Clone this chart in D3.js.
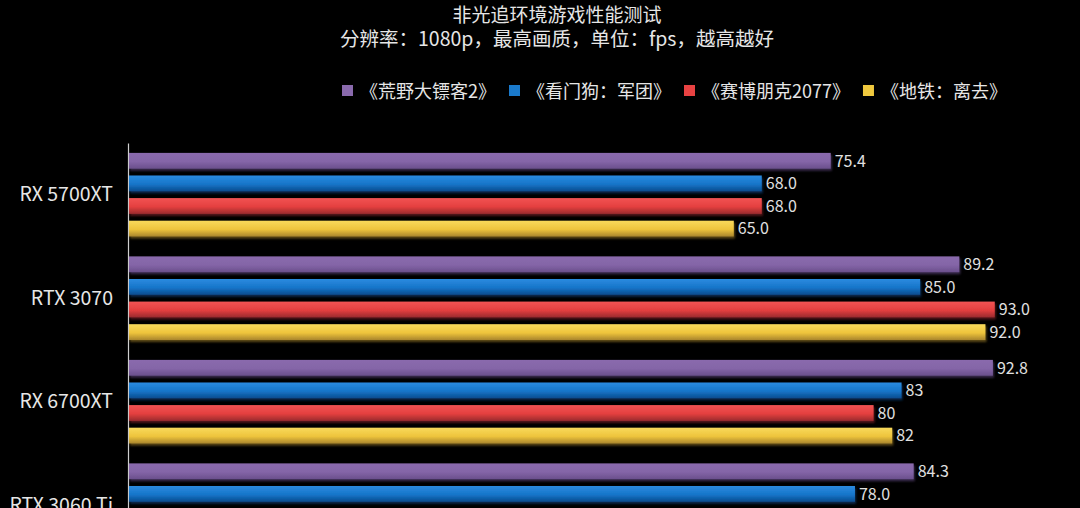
<!DOCTYPE html>
<html>
<head>
<meta charset="utf-8">
<script src="https://cdn.jsdelivr.net/npm/d3@7"></script>
<style>
  html, body { margin: 0; padding: 0; background: #000; }
  svg { display: block; font-family: "Noto Sans CJK SC", "Noto Sans", sans-serif; }
</style>
</head>
<body>
<div id="chart"></div>
<script>
var width = 1080, height = 508;

// data
var categories = ["RX 5700XT", "RTX 3070", "RX 6700XT", "RTX 3060 Ti"];
var seriesNames = ["《荒野大镖客2》", "《看门狗：军团》", "《赛博朋克2077》", "《地铁：离去》"];
var rdr2 = [75.4, 89.2, 92.8, 84.3];
var watchDogs = [68.0, 85.0, 83, 78.0];
var cyberpunk = [68.0, 93.0, 80, 90.0];
var metro = [65.0, 92.0, 82, 88.0];
var rdr2Labels = ["75.4", "89.2", "92.8", "84.3"];
var watchDogsLabels = ["68.0", "85.0", "83", "78.0"];
var cyberpunkLabels = ["68.0", "93.0", "80", "90.0"];
var metroLabels = ["65.0", "92.0", "82", "88.0"];

var seriesValues = [rdr2, watchDogs, cyberpunk, metro];
var seriesLabels = [rdr2Labels, watchDogsLabels, cyberpunkLabels, metroLabels];
var colors = [
  {top: "#8a6aad", mid: "#8465a7", bot: "#6a4f8c", key: "#8a6aad"},
  {top: "#2b8be0", mid: "#1675c9", bot: "#0a4c8e", key: "#1a7acc"},
  {top: "#f25454", mid: "#e43f3f", bot: "#9a2a2e", key: "#e84242"},
  {top: "#f9da5c", mid: "#eec43c", bot: "#a9852c", key: "#f0c93e"}
];

var svg = d3.select("#chart").append("svg")
  .attr("width", width)
  .attr("height", height);

svg.append("rect").attr("width", width).attr("height", height).attr("fill", "#000");

var defs = svg.append("defs");
colors.forEach(function(c, i) {
  var g = defs.append("linearGradient")
    .attr("id", "grad" + i)
    .attr("x1", 0).attr("y1", 0).attr("x2", 0).attr("y2", 1);
  g.append("stop").attr("offset", "0%").attr("stop-color", c.top);
  g.append("stop").attr("offset", "55%").attr("stop-color", c.mid);
  g.append("stop").attr("offset", "100%").attr("stop-color", c.bot);

  var f = defs.append("filter").attr("id", "shadow" + i)
    .attr("x", "-2%").attr("y", "-20%").attr("width", "104%").attr("height", "160%");
  f.append("feDropShadow")
    .attr("dx", 1).attr("dy", 2).attr("stdDeviation", 1.2)
    .attr("flood-color", c.bot).attr("flood-opacity", 0.55);
});

// title
svg.append("text")
  .attr("x", 557).attr("y", 22)
  .attr("text-anchor", "middle")
  .attr("fill", "#e6e6e6")
  .attr("font-size", 19)
  .text("非光追环境游戏性能测试");
svg.append("text")
  .attr("x", 557).attr("y", 46)
  .attr("text-anchor", "middle")
  .attr("fill", "#e6e6e6")
  .attr("font-size", 19.5)
  .text("分辨率：1080p，最高画质，单位：fps，越高越好");

// legend
var legend = svg.append("g").attr("transform", "translate(342,91)");
var lx = 0;
seriesNames.forEach(function(name, i) {
  var item = legend.append("g").attr("transform", "translate(" + lx + ",0)");
  item.append("rect")
    .attr("x", 0).attr("y", -6)
    .attr("width", 11).attr("height", 11)
    .attr("fill", colors[i].key);
  var t = item.append("text")
    .attr("x", 18).attr("y", 6.5)
    .attr("fill", "#e6e6e6")
    .attr("font-size", 18)
    .text(name);
  lx += 18 + t.node().getComputedTextLength() + 13;
});

// scales
var x = d3.scaleLinear().domain([0, 100]).range([128, 1060]);
var y = d3.scaleBand().domain(categories).range([143, 143 + 103.5 * categories.length]);
var yInner = d3.scaleBand().domain(d3.range(seriesNames.length))
  .range([6.5, 96.9]).paddingInner(0.3).paddingOuter(0.15);

// axis
var yAxis = svg.append("g")
  .attr("transform", "translate(128,0)")
  .call(d3.axisLeft(y).tickSize(0).tickPadding(15));
yAxis.select(".domain").attr("stroke", "#cfcfcf").attr("stroke-width", 1.2);
yAxis.selectAll("text")
  .attr("fill", "#e6e6e6")
  .attr("font-size", 19.5)
  .attr("font-family", "\"Noto Sans CJK SC\", \"Noto Sans\", sans-serif");

// bars
var groups = svg.selectAll(".grp")
  .data(categories)
  .join("g")
  .attr("class", "grp")
  .attr("transform", function(d) { return "translate(0," + y(d) + ")"; });

seriesValues.forEach(function(vals, s) {
  groups.append("rect")
    .attr("x", x(0) + 1)
    .attr("y", yInner(s))
    .attr("width", function(d, i) { return x(vals[i]) - x(0) - 1; })
    .attr("height", yInner.bandwidth())
    .attr("fill", "url(#grad" + s + ")")
    .attr("filter", "url(#shadow" + s + ")");

  groups.append("text")
    .attr("x", function(d, i) { return x(vals[i]) + 4; })
    .attr("y", yInner(s) + yInner.bandwidth() / 2)
    .attr("dy", "0.36em")
    .attr("fill", "#e0e0e0")
    .attr("font-size", 16)
    .text(function(d, i) { return seriesLabels[s][i]; });
});
</script>
</body>
</html>
